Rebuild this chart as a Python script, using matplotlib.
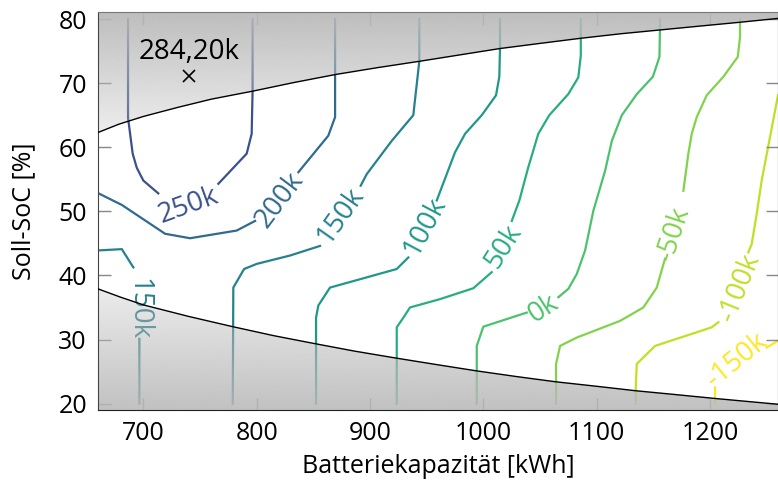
import numpy as np
import matplotlib
matplotlib.use('Agg')
import matplotlib.pyplot as plt
from matplotlib.patches import Polygon
from matplotlib.colors import Normalize

nan = np.nan

# boundary curves (feasible region lies between them)
x_upper = [660.0, 678.5, 700.0, 730.0, 760.0, 796.5, 833.0, 870.0, 906.0, 943.3, 979.0,
           1014.7, 1050.0, 1086.0, 1121.0, 1156.0, 1191.0, 1226.5, 1260.0]
y_upper = [62.3, 63.6, 64.8, 66.2, 67.5, 68.75, 70.1, 71.36, 72.4, 73.4, 74.4,
           75.4, 76.2, 77.0, 77.7, 78.3, 78.9, 79.5, 80.1]
x_lower = [660.0, 680.0, 700.0, 740.0, 778.9, 815.0, 850.0, 886.0, 923.0, 961.8, 994.2,
           1030.0, 1064.0, 1100.0, 1134.7, 1170.0, 1204.4, 1232.0, 1260.0]
y_lower = [37.9, 36.6, 35.4, 33.6, 32.0, 30.6, 29.4, 28.2, 27.1, 26.0, 25.1,
           24.2, 23.4, 22.7, 22.0, 21.4, 20.8, 20.35, 19.9]

# contour lines, values in k; nan = gap for the label
x250 = [686.5, 686.5, 690.6, 694.2, 700.0, 713.2, nan, 766.2, 791.2, 795.6, 796.4, 796.4]
y250 = [80.0, 64.6, 59.0, 56.8, 54.8, 52.8, nan, 54.3, 59.0, 62.1, 68.9, 80.0]
x200 = [660.5, 681.0, 719.2, 741.2, 782.4, 798.6, nan, 836.8, 863.2, 869.2, 869.2]
y200 = [52.8, 51.0, 46.5, 45.8, 47.0, 48.5, nan, 56.1, 61.8, 64.7, 80.0]
x150a = [660.6, 681.0, 691.2, nan, 696.5, 696.5]
y150a = [43.9, 44.1, 41.25, nan, 30.1, 20.0]
x150b = [943.5, 943.5, 938.2, 919.2, 897.1, 891.8, nan, 855.9, 829.4, 800.1, 788.9, 779.4, 778.9]
y150b = [80.0, 73.4, 65.0, 61.0, 55.8, 54.0, nan, 44.6, 43.1, 41.8, 41.0, 38.1, 20.0]
x100 = [1014.7, 1014.7, 1014.1, 1011.2, 998.6, 983.9, 975.0, 958.9, nan, 933.8, 923.6, 864.7, 854.4, 852.4, 852.4]
y100 = [80.0, 75.4, 71.0, 68.1, 65.0, 62.1, 59.2, 51.7, nan, 42.8, 41.0, 38.1, 35.3, 33.4, 20.0]
x50 = [1086.0, 1086.0, 1083.8, 1075.0, 1058.2, 1048.5, 1039.7, 1031.8, 1025.1, nan, 1007.4, 991.2, 961.8, 935.3, 929.4, 923.6, 923.6]
y50 = [80.0, 74.3, 70.9, 68.3, 65.0, 62.1, 56.9, 51.7, 48.5, nan, 40.5, 38.0, 36.3, 35.0, 33.4, 31.9, 20.0]
x0 = [1156.0, 1155.4, 1149.6, 1135.5, 1122.2, 1113.4, 1107.4, 1097.1, 1089.8, 1082.4, 1075.0, 1066.2, nan, 1038.3, 1000.0, 994.2, 994.2]
y0 = [80.0, 74.1, 71.0, 68.3, 65.0, 61.0, 56.3, 50.1, 43.9, 40.2, 37.9, 36.6, nan, 34.2, 32.0, 29.0, 20.0]
xm50 = [1226.5, 1226.5, 1224.5, 1211.8, 1197.1, 1188.3, 1183.9, 1180.9, 1176.5, nan, 1160.3, 1153.0, 1141.2, 1120.6, 1105.9, 1082.4, 1067.7, 1064.2, 1064.2]
ym50 = [80.0, 77.2, 74.1, 71.0, 68.1, 64.7, 62.1, 59.0, 53.2, nan, 42.6, 38.1, 35.0, 32.9, 31.9, 30.3, 29.0, 26.2, 20.0]
xm100 = [1260.0, 1245.6, 1241.2, 1236.8, 1233.8, nan, 1207.4, 1201.5, 1151.5, 1135.4, 1134.5, 1134.5]
ym100 = [68.1, 54.8, 49.6, 44.9, 43.6, nan, 32.7, 31.9, 29.0, 26.2, 22.5, 20.0]
xm150 = [1260.0, 1250.0, nan, 1204.5, 1204.5]
ym150 = [29.8, 28.75, nan, 22.5, 20.0]

levels = [250, 200, 150, 150, 100, 50, 0, -50, -100, -150]
lines_x = [x250, x200, x150a, x150b, x100, x50, x0, xm50, xm100, xm150]
lines_y = [y250, y200, y150a, y150b, y100, y50, y0, ym50, ym100, ym150]
labels = ['250k', '200k', '150k', '150k', '100k', '50k', '0k', '-50k', '-100k', '-150k']

# label placement (x, y, angle)
lab_pos = [(739.6, 50.9, 20), (820.6, 51.7, 53), (695.4, 34.8, -90), (874.3, 49.3, 55),
           (948.5, 47.7, 62), (1017.5, 44.5, 58), (1053.0, 34.75, 33), (1167.8, 46.5, 72),
           (1226.5, 38.1, 68), (1223.5, 26.7, 39)]

max_x, max_y, max_val = 740.3, 71.1, '284,20k'

plt.rcParams['font.family'] = ['Open Sans', 'DejaVu Sans']

fig = plt.figure(figsize=(7.78, 4.87), dpi=100)
ax = fig.add_axes([98/778, 1 - 410/487, 680/778, 398/487])
xmin, xmax, ymin, ymax = 660, 1260, 19.0, 81.1

norm = Normalize(vmin=-150, vmax=383)
cmap = plt.cm.viridis_r
for lev, xs, ys, lab, (lx, ly, ang) in zip(levels, lines_x, lines_y, labels, lab_pos):
    c = cmap(norm(lev))
    ax.plot(xs, ys, color=c, lw=1.6, zorder=1)
    ax.text(lx, ly, lab, color=c, fontsize=20, rotation=ang,
            ha='center', va='center', rotation_mode='anchor', zorder=1)

# gray gradient over the infeasible parts
yy = np.linspace(ymin, ymax, 300)
alpha = np.where(yy > 50, np.interp(yy, [62, 81], [0.24, 0.93]),
                 np.interp(yy, [19, 38], [0.88, 0.27]))
img = np.zeros((len(yy), 2, 4))
img[..., :3] = 185 / 255
img[..., 3] = alpha[:, None]

up_poly = Polygon(list(zip(x_upper, y_upper)) + [(xmax, ymax), (xmin, ymax)],
                  closed=True, fc='none', ec='none')
lo_poly = Polygon(list(zip(x_lower, y_lower)) + [(xmax, ymin), (xmin, ymin)],
                  closed=True, fc='none', ec='none')
for poly in (up_poly, lo_poly):
    ax.add_patch(poly)
    im = ax.imshow(img, extent=[xmin, xmax, ymin, ymax], origin='lower',
                   aspect='auto', interpolation='bilinear', zorder=2)
    im.set_clip_path(poly)

ax.plot(x_upper, y_upper, color='black', lw=1, zorder=3)
ax.plot(x_lower, y_lower, color='black', lw=1, zorder=3)

ax.plot(max_x, max_y, marker='x', color='black', ms=8, mew=1.2, zorder=4)
ax.text(max_x, max_y + 3.7, max_val, fontsize=20, ha='center', va='center', zorder=4)

ax.set_xlim(xmin, xmax)
ax.set_ylim(ymin, ymax)
ax.set_xticks([700, 800, 900, 1000, 1100, 1200])
ax.set_yticks([20, 30, 40, 50, 60, 70, 80])
ax.tick_params(direction='in', length=9, width=1, color='#888888',
               top=True, right=True, labelsize=18, pad=8)
ax.spines['left'].set_color('#444444')
ax.spines['bottom'].set_color('#222222')
ax.spines['top'].set_color('#777777')
ax.set_xlabel('Batteriekapazität [kWh]', fontsize=18, labelpad=6)
ax.set_ylabel('Soll-SoC [%]', fontsize=18, labelpad=16)

fig.savefig('out.png', dpi=100)
